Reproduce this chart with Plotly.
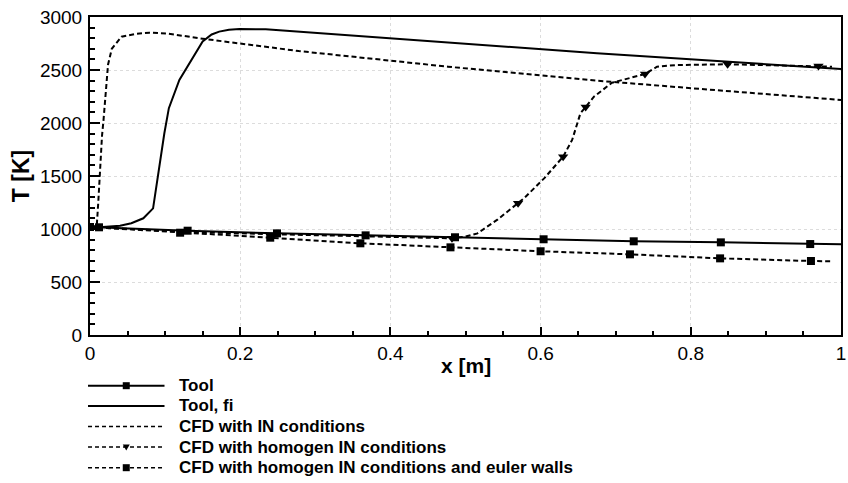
import plotly.graph_objects as go

# ---- data ----
tool_x = [0.0, 0.012, 0.130, 0.249, 0.367, 0.486, 0.604, 0.724, 0.840, 0.959, 1.0]
tool_T = [1020, 1016, 984, 959, 940, 922, 903, 884, 874, 858, 855]
tool_marker = [0, 1, 1, 1, 1, 1, 1, 1, 1, 1, 0]

fi_x = [0.0, 0.017, 0.040, 0.055, 0.071, 0.084, 0.099, 0.105, 0.119, 0.137, 0.150,
        0.162, 0.172, 0.185, 0.199, 0.234, 0.278, 0.4765, 0.675, 1.0]
fi_T = [1020, 1019, 1030, 1054, 1101, 1195, 1903, 2140, 2406, 2610, 2770,
        2835, 2862, 2880, 2887, 2884, 2862, 2758, 2658, 2509]

cfdin_x = [0.0, 0.009, 0.011, 0.013, 0.016, 0.018, 0.021, 0.024, 0.029, 0.042,
           0.060, 0.079, 0.102, 0.150, 0.278, 0.4765, 0.675, 1.0]
cfdin_T = [1020, 1030, 1250, 1557, 1880, 2028, 2300, 2550, 2700, 2814,
           2840, 2852, 2845, 2795, 2679, 2531, 2399, 2217]

hom_x = [0.0, 0.12, 0.25, 0.37, 0.45, 0.482, 0.50, 0.516, 0.543, 0.570, 0.578,
         0.605, 0.630, 0.642, 0.653, 0.660, 0.671, 0.695, 0.739, 0.755, 0.781,
         0.849, 0.970, 0.988]
hom_T = [1020, 975, 950, 930, 917, 912, 928, 959, 1091, 1242, 1290,
         1480, 1682, 1840, 2091, 2151, 2248, 2380, 2462, 2531, 2547,
         2554, 2538, 2531]
hom_marker = [0, 0, 0, 0, 0, 1, 0, 0, 0, 1, 0,
              0, 1, 0, 0, 1, 0, 0, 1, 0, 0,
              1, 1, 0]

eul_x = [0.0, 0.120, 0.240, 0.360, 0.480, 0.600, 0.719, 0.839, 0.960, 0.989]
eul_T = [1019, 965, 918, 865, 827, 790, 761, 723, 698, 695]
eul_marker = [1, 1, 1, 1, 1, 1, 1, 1, 1, 0]

names = ["Tool", "Tool, fi", "CFD with IN conditions",
         "CFD with homogen IN conditions",
         "CFD with homogen IN conditions and euler walls"]
leg_dash = ["solid", "solid", "dash", "dash", "dash"]
leg_symbol = ["square", None, None, "triangle-down", "square"]

x_ticks = [0, 0.2, 0.4, 0.6, 0.8, 1]
x_labels = ["0", "0.2", "0.4", "0.6", "0.8", "1"]
y_ticks = [0, 500, 1000, 1500, 2000, 2500, 3000]

FONT = "Liberation Sans, Arial, sans-serif"
DASH = "5px,3px"
MS = 8
TS = 9

W, H = 848, 483
ML, MR, MT, MB = 90, 2, 17, 148
PW, PH = W - ML - MR, H - MT - MB


def px_x(px):
    return (px - ML) / PW


def px_y(py):
    return (H - MB - py) / PH


fig = go.Figure()
fig.add_trace(go.Scatter(x=tool_x, y=tool_T, mode="lines+markers", name=names[0],
                         line=dict(color="black", width=2),
                         marker=dict(symbol="square", color="black", opacity=1, line=dict(width=0),
                                     size=[MS * m for m in tool_marker])))
fig.add_trace(go.Scatter(x=fi_x, y=fi_T, mode="lines", name=names[1],
                         line=dict(color="black", width=2)))
fig.add_trace(go.Scatter(x=cfdin_x, y=cfdin_T, mode="lines", name=names[2],
                         line=dict(color="black", width=2, dash=DASH)))
fig.add_trace(go.Scatter(x=hom_x, y=hom_T, mode="lines+markers", name=names[3],
                         line=dict(color="black", width=2, dash=DASH),
                         marker=dict(symbol="triangle-down", color="black", opacity=1, line=dict(width=0),
                                     size=[TS * m for m in hom_marker])))
fig.add_trace(go.Scatter(x=eul_x, y=eul_T, mode="lines+markers", name=names[4],
                         line=dict(color="black", width=2, dash=DASH),
                         marker=dict(symbol="square", color="black", opacity=1, line=dict(width=0),
                                     size=[MS * m for m in eul_marker])))

# ---- manual legend below the plot ----
shapes = []
annotations = []
row_y = [385.7, 405.9, 426.5, 447.1, 467.7]
for name, dash, sym, py in zip(names, leg_dash, leg_symbol, row_y):
    yp = px_y(py)
    shapes.append(dict(type="line", xref="paper", yref="paper",
                       x0=px_x(88), x1=px_x(165), y0=yp, y1=yp,
                       line=dict(color="black", width=2 if dash == "solid" else 1.5,
                                 dash="solid" if dash == "solid" else "4px,3px")))
    if sym == "square":
        shapes.append(dict(type="rect", xref="paper", yref="paper",
                           xsizemode="pixel", ysizemode="pixel",
                           xanchor=px_x(126.5), yanchor=yp,
                           x0=-3.5, x1=3.5, y0=-3.5, y1=3.5,
                           fillcolor="black", line=dict(width=0)))
    elif sym == "triangle-down":
        shapes.append(dict(type="path", xref="paper", yref="paper",
                           xsizemode="pixel", ysizemode="pixel",
                           xanchor=px_x(126.5), yanchor=yp,
                           path="M-3.5,2.5 L3.5,2.5 L0,-3.5 Z",
                           fillcolor="black", line=dict(width=0)))
    annotations.append(dict(text=name, xref="paper", yref="paper",
                            x=px_x(178), y=yp, xanchor="left", yanchor="middle",
                            showarrow=False,
                            font=dict(family=FONT, size=17, color="black", weight="bold")))

# x-axis title placed precisely
annotations.append(dict(text="x [m]", xref="paper", yref="paper",
                        x=0.5, y=px_y(365), xanchor="center", yanchor="middle",
                        showarrow=False,
                        font=dict(family=FONT, size=21, color="black", weight="bold")))

axis_common = dict(showline=True, linecolor="black", linewidth=2, mirror=True,
                   ticks="inside", tickcolor="black", tickwidth=1.5,
                   showgrid=True, gridcolor="#dcdcdc", griddash="dot", gridwidth=1,
                   zeroline=False, ticklabeloverflow="allow",
                   tickfont=dict(family=FONT, size=19, color="black"))

fig.update_layout(
    width=W, height=H,
    margin=dict(l=ML, r=MR, t=MT, b=MB),
    paper_bgcolor="white", plot_bgcolor="white",
    font=dict(family=FONT, color="black"),
    showlegend=False,
    shapes=shapes,
    annotations=annotations,
    xaxis=dict(range=[0, 1], tickvals=x_ticks, ticktext=x_labels, ticklen=8,
               minor=dict(dtick=0.05, ticklen=4, ticks="inside", tickcolor="black", showgrid=False),
               **axis_common),
    yaxis=dict(range=[0, 3000], tickvals=y_ticks, ticklen=10, ticklabelstandoff=2,
               minor=dict(dtick=100, ticklen=5, ticks="inside", tickcolor="black", showgrid=False),
               title=dict(text="T [K]", standoff=4,
                          font=dict(family=FONT, size=23, color="black", weight="bold")),
               **axis_common),
)

fig.write_html("out.html")
